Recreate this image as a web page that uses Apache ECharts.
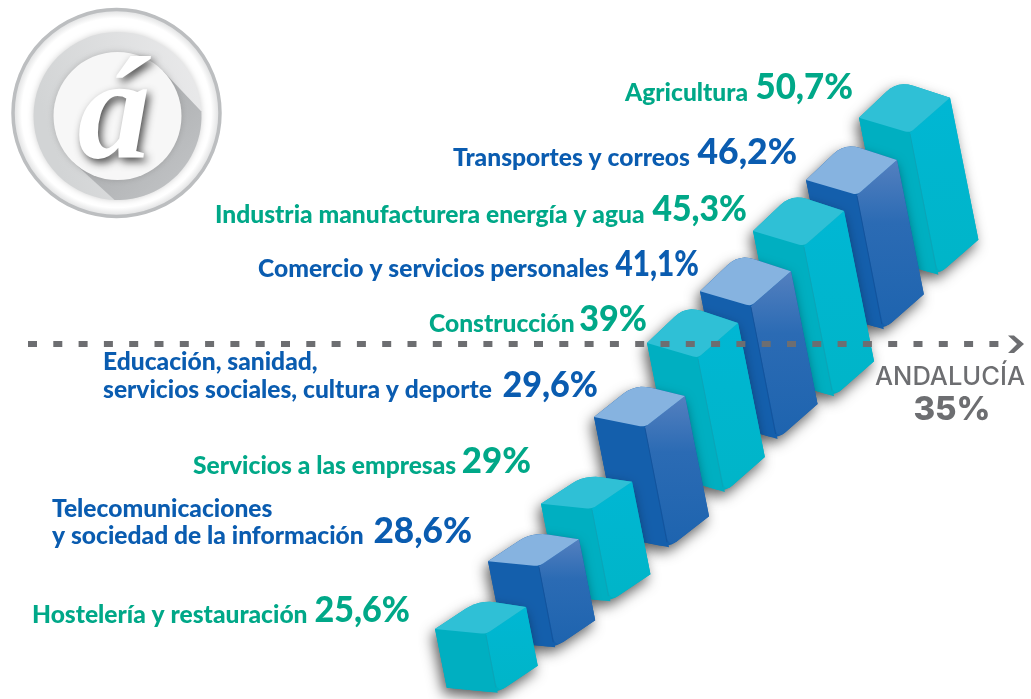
<!DOCTYPE html>
<html><head><meta charset="utf-8">
<style>html,body{margin:0;padding:0;background:#fff}#c{width:1031px;height:699px}</style>
<script src="https://cdn.jsdelivr.net/npm/echarts@6/dist/echarts.min.js"></script>
</head><body><div id="c"></div>
<script>
// Data
const categories = ['Hostelería y restauración','Telecomunicaciones\ny sociedad de la información','Servicios a las empresas','Educación, sanidad,\nservicios sociales, cultura y deporte','Construcción','Comercio y servicios personales','Industria manufacturera energía y agua','Transportes y correos','Agricultura'];
const valueLabels = ['25,6%','28,6%','29%','29,6%','39%','41,1%','45,3%','46,2%','50,7%'];
// The infographic is not drawn to scale: levels are read off the picture on its own hidden 0-100 axis.
const barTopLevels = [9.3,19.0,27.2,38.9,48.8,56.2,64.8,72.1,81.0];
const barBaseLevels = [0.9,7.4,14.0,21.7,29.6,37.2,43.3,52.9,60.7];
const referenceName = 'ANDALUCÍA';
const referenceValue = '35%';
const referenceLevel = 50.8;

// Layout and style
const GREEN='#00a888', BLUE='#0a5cb0', GREY='#6d6e71';
const FACES=[
 {top:'#2fc0d6',left:'#00afc1',r0:'#00b7d4',r1:'#00b5c8',mid:'#00b6cf',edge:'#0f9fb3'},
 {top:'#86b3e0',left:'#145fac',r0:'#5480bf',r1:'#1e64af',mid:'#2b6bb4',edge:'#124f96'}];
const labelLayout=[
 {x:32,ys:[615],nx:410,ny:611,sx:0.96},
 {x:52,ys:[509,536],nx:472,ny:532,sx:0.99},
 {x:193,ys:[466],nx:531,ny:462,sx:0.98},
 {x:103,ys:[362,390],nx:598,ny:386,sx:0.96},
 {x:429,ys:[324],nx:647,ny:320,sx:0.96},
 {x:258,ys:[269],nx:699,ny:265,sx:0.84},
 {x:215,ys:[215],nx:747,ny:210,sx:0.95},
 {x:453,ys:[158],nx:797,ny:153},
 {x:625,ys:[93],nx:853,ny:88,sx:0.98}];
const NAME_FONT='900 24.6px Lato, sans-serif', NUM_FONT='900 35.5px Lato, sans-serif';

function rounded(pts){
  const out=[],n=pts.length;
  for(let i=0;i<n;i++){
    const p=pts[i],a=pts[(i+n-1)%n],b=pts[(i+1)%n],r=p[2]||0;
    if(!r){out.push([p[0],p[1]]);continue;}
    const la=Math.hypot(a[0]-p[0],a[1]-p[1]),lb=Math.hypot(b[0]-p[0],b[1]-p[1]);
    const s=[p[0]+(a[0]-p[0])*r/la,p[1]+(a[1]-p[1])*r/la],e=[p[0]+(b[0]-p[0])*r/lb,p[1]+(b[1]-p[1])*r/lb];
    for(let k=0;k<=6;k++){const t=k/6,u=1-t;out.push([u*u*s[0]+2*u*t*p[0]+t*t*e[0],u*u*s[1]+2*u*t*p[1]+t*t*e[1]]);}
  }
  return out;
}
function renderBar(params,api){
  const i=api.value(0),top=api.coord([i,api.value(1)]),base=api.coord([i,api.value(2)]);
  const h=base[1]-top[1],lean=0.2*h,t=Math.max(0,Math.min(1,(i-2)/2));
  const F=[top[0]+5.5,top[1]];
  const L=[F[0]-51,F[1]-(5+10*t)],R=[F[0]+40,F[1]-(27+8*t)],B=[F[0]-7-5*t,F[1]-(34+18*t)];
  const dn=p=>[p[0]+lean,p[1]+h];
  const Fb=dn(F),Lb=dn(L),Rb=dn(R);
  const c=FACES[i%2],z=(8-i)*10+10;
  const poly=(pts,fill,k,extra)=>({type:'polygon',z2:z+k,shape:{points:rounded(pts)},style:Object.assign({fill:fill},extra||{})});
  const base2=[Fb[0],Fb[1],10];
  return {type:'group',children:[
    poly([L,[B[0],B[1],16],R,Rb,base2,Lb],c.left,0,{shadowBlur:13,shadowColor:'rgba(0,0,0,0.62)',shadowOffsetX:-3,shadowOffsetY:6}),
    poly([L,F,Fb,Lb],c.left,1),
    poly([F,R,Rb,base2],{type:'linear',x:0,y:0,x2:0,y2:1,colorStops:[{offset:0,color:c.r0},{offset:0.38,color:c.mid},{offset:1,color:c.r1}]},2),
    poly([L,[B[0],B[1],16],R,[F[0],F[1],5]],c.top,3),
    {type:'line',z2:z+4,shape:{x1:F[0],y1:F[1]+1,x2:Fb[0]-2,y2:Fb[1]-5},style:{stroke:c.edge,lineWidth:1,opacity:0.7}}
  ]};
}
function renderRef(params,api){
  const y=api.coord([0,api.value(0)])[1];
  return {type:'group',children:[
    {type:'line',shape:{x1:28,y1:y,x2:1003,y2:y},style:{stroke:GREY,lineWidth:6,lineDash:[9,16.3]}},
    {type:'polygon',shape:{points:[[1008,y-8.5],[1014,y-8.5],[1024,y],[1014,y+9],[1008,y+9],[1017,y]]},style:{fill:GREY}}
  ]};
}

// Logo
const LC=[117.5,116];
function arc(cx,cy,r,a0,a1,n){const o=[];for(let k=0;k<=n;k++){const a=(a0+(a1-a0)*k/n)*Math.PI/180;o.push([cx+r*Math.cos(a),cy+r*Math.sin(a)]);}return o;}
const logo=[
 {type:'circle',shape:{cx:116.5,cy:113,r:103.5},style:{fill:{type:'radial',x:0.5,y:0.5,r:0.5,colorStops:[{offset:0,color:'#fff'},{offset:0.9,color:'#fff'},{offset:1,color:'#d6d7d8'}]},stroke:'#bcbec0',lineWidth:3.5}},
 {type:'circle',shape:{cx:LC[0],cy:LC[1],r:84},style:{fill:{type:'linear',x:0,y:0.3,x2:1,y2:0,colorStops:[{offset:0,color:'#d2d4d5'},{offset:1,color:'#ebebec'}]},shadowBlur:6,shadowColor:'rgba(120,120,120,0.35)'}},
 {type:'polygon',shape:{points:[[LC[0]+45.3,LC[1]-45.3]].concat(arc(LC[0],LC[1],84,-3,92,24),[[LC[0]-45.3,LC[1]+45.3]])},style:{fill:{type:'linear',x:0,y:0,x2:1,y2:1,colorStops:[{offset:0,color:'#9c9ea0'},{offset:1,color:'#c6c8ca'}]}}},
 {type:'circle',shape:{cx:LC[0],cy:LC[1],r:64},style:{fill:'#f7f7f7',shadowBlur:6,shadowColor:'rgba(120,120,120,0.4)'}},
 {type:'text',x:114,y:120,style:{text:'á',font:'italic 700 146px "Liberation Serif", serif',fill:'#fff',align:'center',verticalAlign:'middle',textShadowBlur:8,textShadowColor:'rgba(0,0,0,0.7)',textShadowOffsetX:3,textShadowOffsetY:4}}
];
// Labels
const texts=[];
categories.forEach((name,i)=>{
  const l=labelLayout[i],col=i%2?BLUE:GREEN;
  name.split('\n').forEach((line,k)=>texts.push({type:'text',x:l.x,y:l.ys[k],style:{text:line,font:NAME_FONT,fill:col,align:'left',verticalAlign:'middle'}}));
  texts.push({type:'text',x:l.nx,y:l.ny,scaleX:l.sx||1,style:{text:valueLabels[i],font:NUM_FONT,fill:col,align:'right',verticalAlign:'middle'}});
});
texts.push({type:'text',x:950,y:377,style:{text:referenceName,font:'500 25.5px Inter, sans-serif',fill:GREY,align:'center',verticalAlign:'middle'}});
texts.push({type:'text',x:952,y:410,style:{text:referenceValue,font:'800 33px Inter, sans-serif',fill:GREY,align:'center',verticalAlign:'middle'}});

const chart=echarts.init(document.getElementById('c'),null,{renderer:'canvas'});
chart.setOption({
  animation:false,
  grid:{left:454,width:477,top:0,height:699},
  xAxis:{type:'category',data:categories,show:false},
  yAxis:{type:'value',min:0,max:100,show:false},
  graphic:logo.concat(texts),
  series:[
   {type:'custom',renderItem:renderBar,clip:false,data:categories.map((c,i)=>[i,barTopLevels[i],barBaseLevels[i]]),encode:{x:0,y:1}},
   {type:'custom',z:5,renderItem:renderRef,clip:false,data:[[referenceLevel]],encode:{y:0}}
  ]
});
</script></body></html>
